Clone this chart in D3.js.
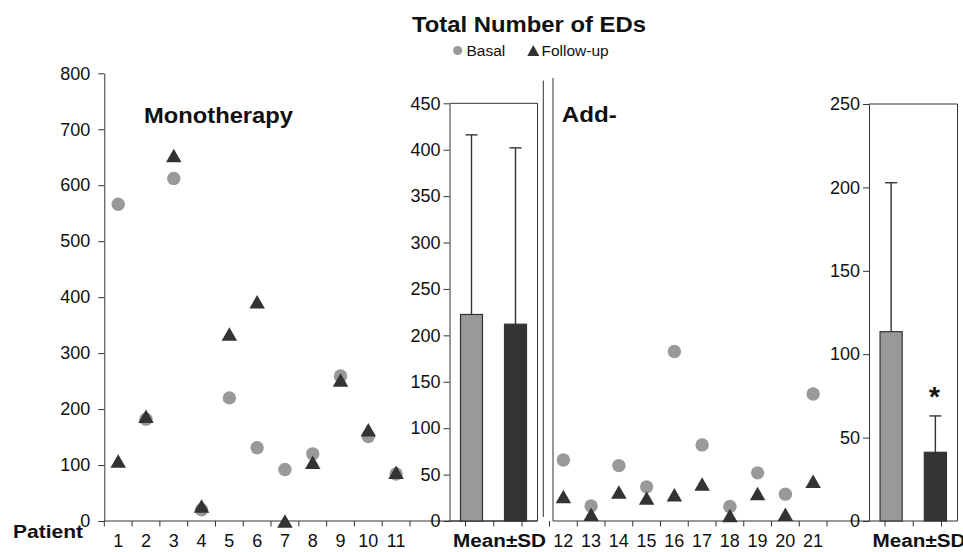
<!DOCTYPE html>
<html>
<head>
<meta charset="utf-8">
<script src="https://cdn.jsdelivr.net/npm/d3@7"></script>
<style>
  html, body { margin: 0; padding: 0; background: #fff; }
  svg { display: block; font-family: "Liberation Sans", Arial, sans-serif; }
</style>
</head>
<body>
<svg id="chart" width="963" height="552"></svg>
<script>
// ---------------- DATA ----------------
const patientsMono = ["1","2","3","4","5","6","7","8","9","10","11"];
const basalMono    = [566, 182, 612, 20, 220, 131, 92, 120, 259, 151, 84];
const followMono   = [107, 187, 653, 27, 334, 392, 0, 105, 252, 163, 87];

const patientsAdd  = ["12","13","14","15","16","17","18","19","20","21"];
const basalAdd     = [109, 27, 99, 61, 303, 136, 26, 86, 48, 227];
const followAdd    = [44, 12, 52, 41, 47, 66, 10, 49, 12, 71];

const groups   = ["Basal", "Follow-up"];
const monoMean = [222.5, 212];
const monoSD   = [193.5, 190];
const addMean  = [113.5, 41.2];
const addSD    = [89.3, 21.8];
const addSignif = [false, true];

const yTicksScatter = [0,100,200,300,400,500,600,700,800];
const yTicksMono    = [0,50,100,150,200,250,300,350,400,450];
const yTicksAdd     = [0,50,100,150,200,250];

const title = "Total Number of EDs";
const panelLabels = ["Monotherapy", "Add-"];
const meanLabel = "Mean±SD";
const xTitle = "Patient";

// ---------------- STYLE ----------------
const cBasal = "#999999";
const cFollow = "#333333";
const cAxis = "#333333";
const baseY = 521;
const tickFs = 18;

const svg = d3.select("#chart");

// ---------------- SCALES ----------------
const y = d3.scaleLinear().domain([0, 800]).range([baseY, 73.3]);
const xMono = d3.scaleBand().domain(patientsMono).range([104.3, 410]);
const xAdd  = d3.scaleBand().domain(patientsAdd).range([549.5, 827]);

const yBarMono = d3.scaleLinear().domain([0, 450]).range([baseY, 103.3]);
const yBarAdd  = d3.scaleLinear().domain([0, 250]).range([baseY, 104]);
const xBarMono = d3.scaleBand().domain(groups).range([449.5, 537.5]).paddingInner(0.5).paddingOuter(0.25);
const xBarAdd  = d3.scaleBand().domain(groups).range([869, 957.5]).paddingInner(0.5).paddingOuter(0.25);

const tri = (w, h) => `M0,${-h/2}L${w/2},${h/2}L${-w/2},${h/2}Z`;

function styleAxis(g, fs) {
  g.selectAll("path.domain").attr("stroke", cAxis);
  g.selectAll(".tick line").attr("stroke", cAxis);
  g.selectAll(".tick text").attr("fill", "#111").style("font-size", fs + "px")
    .style("font-family", "'Liberation Sans', Arial, sans-serif");
}

// ---------------- TITLE & LEGEND ----------------
svg.append("text").attr("x", 529).attr("y", 31.5).attr("text-anchor", "middle")
  .attr("font-weight", "bold").attr("font-size", 22).attr("fill", "#111")
  .attr("textLength", 234).attr("lengthAdjust", "spacingAndGlyphs").text(title);

const leg = svg.append("g");
leg.append("circle").attr("cx", 457.7).attr("cy", 50.5).attr("r", 4.6).attr("fill", cBasal);
leg.append("text").attr("x", 466.5).attr("y", 56).attr("font-size", 15.5).attr("fill", "#111").text(groups[0]);
leg.append("path").attr("d", tri(12, 11)).attr("transform", "translate(533.3,50.5)").attr("fill", cFollow);
leg.append("text").attr("x", 541.5).attr("y", 56).attr("font-size", 15.5).attr("fill", "#111").text(groups[1]);

// ---------------- LEFT SCATTER (Monotherapy) ----------------
const gL = svg.append("g").attr("transform", "translate(104.3,0)");
gL.call(d3.axisLeft(y).tickValues(yTicksScatter).tickSize(6).tickSizeOuter(0).tickPadding(8));
styleAxis(gL, tickFs);

// x axis line (scatter + bar panel)
svg.append("line").attr("x1", 104.3).attr("x2", 537.5).attr("y1", baseY).attr("y2", baseY).attr("stroke", cAxis);
const monoBounds = patientsMono.map(d => xMono(d)).concat([xMono.range()[1]]);
svg.append("g").selectAll("line").data(monoBounds).join("line")
  .attr("x1", d => d).attr("x2", d => d).attr("y1", baseY).attr("y2", baseY + 5.5).attr("stroke", cAxis);
svg.append("g").selectAll("text").data(patientsMono).join("text")
  .attr("x", d => xMono(d) + xMono.bandwidth() / 2).attr("y", 547)
  .attr("text-anchor", "middle").attr("font-size", tickFs).attr("fill", "#111").text(d => d);

svg.append("text").attr("x", 13).attr("y", 537.5).attr("font-weight", "bold").attr("font-size", 18.5)
  .attr("fill", "#111").attr("textLength", 70).attr("lengthAdjust", "spacingAndGlyphs").text(xTitle);

svg.append("text").attr("x", 144).attr("y", 122.5).attr("font-weight", "bold").attr("font-size", 22)
  .attr("fill", "#111").attr("textLength", 149).attr("lengthAdjust", "spacingAndGlyphs").text(panelLabels[0]);

svg.append("g").selectAll("circle").data(patientsMono).join("circle")
  .attr("cx", d => xMono(d) + xMono.bandwidth() / 2)
  .attr("cy", (d, i) => y(basalMono[i])).attr("r", 6.7).attr("fill", cBasal);
svg.append("g").selectAll("path").data(patientsMono).join("path")
  .attr("d", tri(15.5, 13.5))
  .attr("transform", (d, i) => `translate(${xMono(d) + xMono.bandwidth() / 2},${y(followMono[i])})`)
  .attr("fill", cFollow);

// ---------------- BAR PANEL helper ----------------
function barPanel(xs, ys, ticks, means, sds, signif) {
  const x0 = xs.range()[0], x1 = xs.range()[1];
  const top = ys(ticks[ticks.length - 1]);
  const g = svg.append("g").attr("transform", `translate(${x0},0)`);
  g.call(d3.axisLeft(ys).tickValues(ticks).tickSize(6).tickSizeOuter(0).tickPadding(3));
  styleAxis(g, tickFs);
  svg.append("path").attr("d", `M${x0},${top}L${x1},${top}L${x1},${baseY}`)
    .attr("fill", "none").attr("stroke", cAxis);
  svg.append("line").attr("x1", x0).attr("x2", x1).attr("y1", baseY).attr("y2", baseY).attr("stroke", cAxis);
  const tp = d3.scalePoint().domain(["a", "b", "c"]).range([x0 + 16, x0 + 72.5]);
  svg.append("g").selectAll("line").data(tp.domain()).join("line")
    .attr("x1", d => tp(d)).attr("x2", d => tp(d)).attr("y1", baseY).attr("y2", baseY + 5.5).attr("stroke", cAxis);
  const eg = svg.append("g");
  groups.forEach((gname, i) => {
    const cx = xs(gname) + xs.bandwidth() / 2;
    const yt = ys(means[i] + sds[i]);
    eg.append("line").attr("x1", cx).attr("x2", cx).attr("y1", ys(means[i])).attr("y2", yt)
      .attr("stroke", cAxis).attr("stroke-width", 1.4);
    eg.append("line").attr("x1", cx - 6).attr("x2", cx + 6).attr("y1", yt).attr("y2", yt)
      .attr("stroke", cAxis).attr("stroke-width", 1.4);
  });
  svg.append("g").selectAll("rect").data(groups).join("rect")
    .attr("x", d => xs(d)).attr("width", xs.bandwidth())
    .attr("y", (d, i) => ys(means[i])).attr("height", (d, i) => baseY - ys(means[i]))
    .attr("fill", (d, i) => i === 0 ? cBasal : cFollow)
    .attr("stroke", cAxis).attr("stroke-width", 1.2);
  if (signif) {
    groups.forEach((gname, i) => {
      if (!signif[i]) return;
      svg.append("text").attr("x", xs(gname) + xs.bandwidth() / 2 - 1).attr("y", ys(means[i] + sds[i]) - 10)
        .attr("text-anchor", "middle").attr("font-weight", "bold").attr("font-size", 28).attr("fill", "#111").text("*");
    });
  }
  svg.append("text").attr("x", x0 + 3.5).attr("y", 547).attr("font-weight", "bold").attr("font-size", 18)
    .attr("fill", "#111").attr("textLength", 93).attr("lengthAdjust", "spacingAndGlyphs").text(meanLabel);
}

barPanel(xBarMono, yBarMono, yTicksMono, monoMean, monoSD, null);

// ---------------- BREAK LINES ----------------
svg.append("line").attr("x1", 543.3).attr("x2", 543.3).attr("y1", 80.5).attr("y2", 517).attr("stroke", cAxis);
svg.append("line").attr("x1", 553).attr("x2", 553).attr("y1", 78).attr("y2", baseY).attr("stroke", cAxis);

// ---------------- ADD-ON SCATTER ----------------
svg.append("line").attr("x1", 553).attr("x2", 869).attr("y1", baseY).attr("y2", baseY).attr("stroke", cAxis);
const addBounds = patientsAdd.map(d => xAdd(d)).concat([xAdd.range()[1]]);
svg.append("g").selectAll("line").data(addBounds).join("line")
  .attr("x1", d => d).attr("x2", d => d).attr("y1", baseY).attr("y2", baseY + 5.5).attr("stroke", cAxis);
svg.append("g").selectAll("text").data(patientsAdd).join("text")
  .attr("x", d => xAdd(d) + xAdd.bandwidth() / 2).attr("y", 547)
  .attr("text-anchor", "middle").attr("font-size", tickFs).attr("fill", "#111").text(d => d);

svg.append("text").attr("x", 561.7).attr("y", 121.7).attr("font-weight", "bold").attr("font-size", 22)
  .attr("fill", "#111").attr("textLength", 55).attr("lengthAdjust", "spacingAndGlyphs").text(panelLabels[1]);

svg.append("g").selectAll("circle").data(patientsAdd).join("circle")
  .attr("cx", d => xAdd(d) + xAdd.bandwidth() / 2)
  .attr("cy", (d, i) => y(basalAdd[i])).attr("r", 6.7).attr("fill", cBasal);
svg.append("g").selectAll("path").data(patientsAdd).join("path")
  .attr("d", tri(15.5, 13.5))
  .attr("transform", (d, i) => `translate(${xAdd(d) + xAdd.bandwidth() / 2},${y(followAdd[i])})`)
  .attr("fill", cFollow);

// ---------------- ADD-ON BAR PANEL ----------------
barPanel(xBarAdd, yBarAdd, yTicksAdd, addMean, addSD, addSignif);
</script>
</body>
</html>
